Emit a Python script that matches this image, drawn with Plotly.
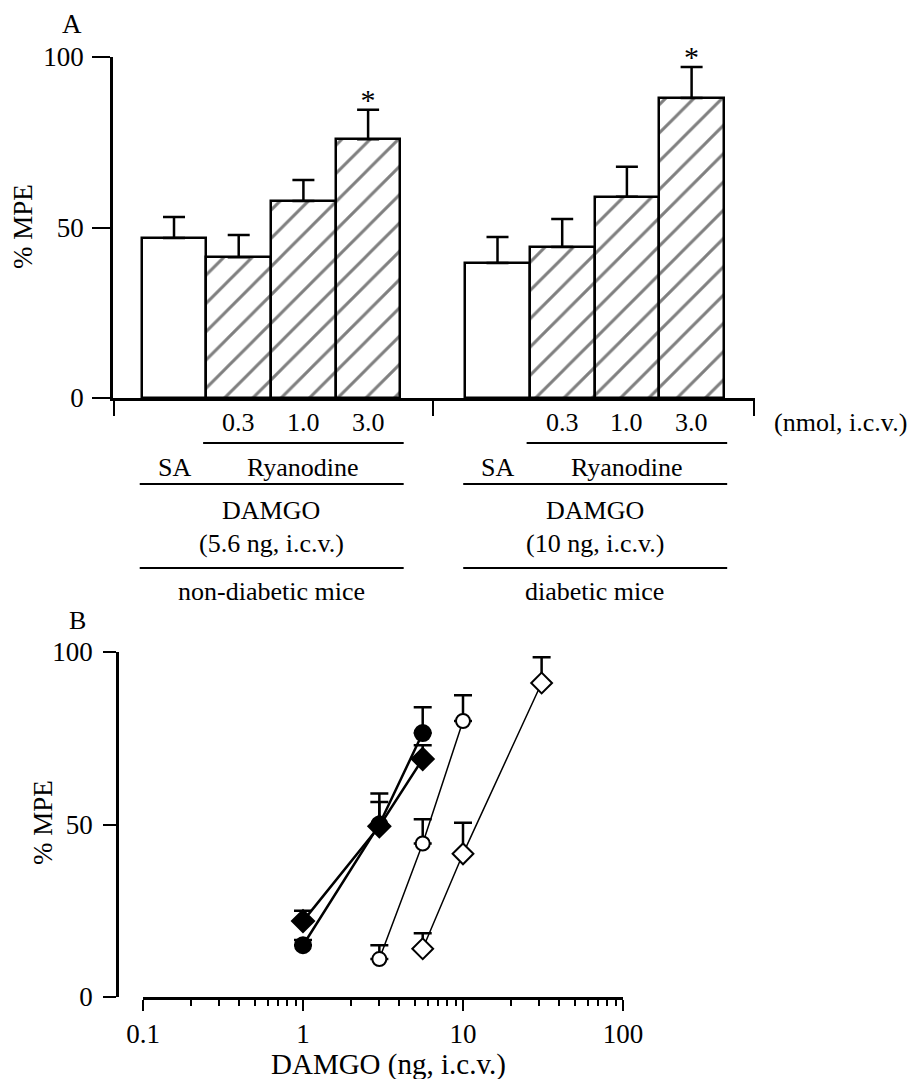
import plotly.graph_objects as go

# ---------------- data: panel A ----------------
categories = ["SA", "0.3", "1.0", "3.0"]
nondiabetic_mean = [46.9, 41.3, 57.8, 75.9]
nondiabetic_sem = [6.2, 6.5, 6.1, 8.6]
nondiabetic_sig = ["", "", "", "*"]
diabetic_mean = [39.6, 44.3, 59.0, 88.0]
diabetic_sem = [7.6, 8.2, 8.8, 9.1]
diabetic_sig = ["", "", "", "*"]
group_labels = ["(5.6 ng, i.c.v.)", "(10 ng, i.c.v.)"]
mice_labels = ["non-diabetic mice", "diabetic mice"]

# ---------------- data: panel B ----------------
filled_circle_x = [1, 3, 5.6]
filled_circle_y = [15.0, 50.0, 76.5]
filled_circle_err = [1.5, 9.0, 7.5]
filled_diamond_x = [1, 3, 5.6]
filled_diamond_y = [22.0, 49.5, 69.0]
filled_diamond_err = [3.0, 7.0, 4.0]
open_circle_x = [3, 5.6, 10]
open_circle_y = [11.0, 44.5, 80.0]
open_circle_err = [4.0, 7.0, 7.5]
open_diamond_x = [5.6, 10, 31]
open_diamond_y = [14.0, 41.5, 91.0]
open_diamond_err = [4.5, 9.0, 7.5]
b_ticks = [0.1, 1, 10, 100]
b_ticktext = ["0.1", "1", "10", "100"]

FONT = "Liberation Serif"
FS = 26      # label rows
TFS = 27     # tick labels
W, H = 923, 1079


def py(px):
    return 1 - px / H


fig = go.Figure()

pos1 = [1, 2, 3, 4]
pos2 = [6, 7, 8, 9]
shapes_pat = ["" if c == "SA" else "/" for c in categories]

for pos, mean, sem, sig in [(pos1, nondiabetic_mean, nondiabetic_sem, nondiabetic_sig),
                            (pos2, diabetic_mean, diabetic_sem, diabetic_sig)]:
    fig.add_trace(go.Bar(
        x=pos, y=mean, width=1.0,
        marker=dict(color="white",
                    line=dict(color="black", width=2.5),
                    pattern=dict(shape=shapes_pat, size=20, solidity=0.15,
                                 fgcolor="black", bgcolor="white", fillmode="overlay")),
        error_y=dict(type="data", symmetric=False, array=sem, arrayminus=[0] * len(sem),
                     color="black", thickness=2.5, width=11),
        xaxis="x", yaxis="y", showlegend=False))
    fig.add_trace(go.Scatter(
        x=pos, y=[m + s - 2.3 for m, s in zip(mean, sem)], text=sig,
        mode="text", textposition="top center", cliponaxis=False,
        textfont=dict(family=FONT, size=30, color="black"),
        xaxis="x", yaxis="y", showlegend=False))

# ---------------- panel B traces ----------------
series = [
    (filled_circle_x, filled_circle_y, filled_circle_err, "circle", "black", 16, 2.5),
    (filled_diamond_x, filled_diamond_y, filled_diamond_err, "diamond", "black", 17, 2.5),
    (open_circle_x, open_circle_y, open_circle_err, "circle", "white", 14, 1.5),
    (open_diamond_x, open_diamond_y, open_diamond_err, "diamond", "white", 16, 1.5),
]
for xs, ys, es, sym, fill, size, lw in series:
    fig.add_trace(go.Scatter(
        x=xs, y=ys, mode="lines+markers",
        line=dict(color="black", width=lw),
        marker=dict(symbol=sym, color=fill, size=size, line=dict(color="black", width=2)),
        error_y=dict(type="data", symmetric=False, array=es, arrayminus=[0] * len(es),
                     color="black", thickness=2.5, width=9),
        xaxis="x2", yaxis="y2", showlegend=False, cliponaxis=False))

axis_font = dict(family=FONT, size=TFS, color="black")

fig.update_layout(
    template="none",
    width=W, height=H, autosize=False,
    margin=dict(l=0, r=0, t=0, b=0, pad=0),
    paper_bgcolor="white", plot_bgcolor="white",
    showlegend=False,
    font=dict(family=FONT, size=FS, color="black"),
    bargap=0,
    xaxis=dict(domain=[113 / W, 755 / W], range=[0.057, 9.98], automargin=False,
               tickvals=[0.07, 5, 9.97], ticktext=["", "", ""],
               ticks="outside", ticklen=15, tickwidth=2, tickcolor="black",
               showline=True, linecolor="black", linewidth=2.5,
               showgrid=False, zeroline=False, anchor="y", fixedrange=True),
    yaxis=dict(domain=[py(398), py(57)], range=[0, 100], automargin=False,
               tickvals=[0, 50, 100], ticks="outside", ticklen=18, tickwidth=2,
               tickcolor="black", showline=True, linecolor="black", linewidth=2.5,
               showgrid=False, zeroline=False, anchor="x", tickfont=axis_font,
               ticklabelstandoff=3),
    xaxis2=dict(type="log", domain=[143 / W, 623 / W], range=[-1, 2], automargin=False,
                tickvals=b_ticks, ticktext=b_ticktext,
                ticks="outside", ticklen=11, tickwidth=2, tickcolor="black",
                minor=dict(ticks="outside", ticklen=6, tickwidth=2, tickcolor="black",
                           tickvals=[m * d for d in (0.1, 1, 10) for m in range(2, 10)]),
                showline=True, linecolor="black", linewidth=2.5,
                showgrid=False, zeroline=False, anchor="y2", tickfont=axis_font),
    yaxis2=dict(domain=[py(997), py(652)], range=[0, 100], automargin=False,
                tickvals=[0, 50, 100], ticks="outside", ticklen=13, tickwidth=2,
                tickcolor="black", showline=True, linecolor="black", linewidth=2.5,
                showgrid=False, zeroline=False, anchor="free", position=117 / W,
                tickfont=axis_font, ticklabelstandoff=5),
)

ann = []
shp = []


def text(x, y, s, xref="paper", xanchor="center", size=FS, angle=0):
    ann.append(dict(x=x, y=py(y), xref=xref, yref="paper", text=s, showarrow=False,
                    xanchor=xanchor, yanchor="middle", textangle=angle,
                    font=dict(family=FONT, size=size, color="black")))


def hline(x0, x1, y):
    shp.append(dict(type="line", xref="x", yref="paper", x0=x0, x1=x1,
                    y0=py(y), y1=py(y), line=dict(color="black", width=2)))


text(72 / W, 24, "A", size=27)
text(23 / W, 227, "% MPE", angle=-90, size=27)
for pos, lab_g, lab_m in [(pos1, group_labels[0], mice_labels[0]), (pos2, group_labels[1], mice_labels[1])]:
    for p, c in zip(pos[1:], categories[1:]):
        text(p, 423, c, xref="x")
    hline(pos[1] - 0.55, pos[-1] + 0.55, 443)
    text(pos[0], 467, categories[0], xref="x")
    text((pos[1] + pos[-1]) / 2, 467, "Ryanodine", xref="x")
    hline(pos[0] - 0.53, pos[-1] + 0.55, 484)
    text((pos[0] + pos[-1]) / 2, 510, "DAMGO", xref="x")
    text((pos[0] + pos[-1]) / 2, 543, lab_g, xref="x")
    hline(pos[0] - 0.53, pos[-1] + 0.55, 568)
    text((pos[0] + pos[-1]) / 2, 591, lab_m, xref="x")
text(772 / W, 423, "(nmol, i.c.v.)", xanchor="left")

text(77 / W, 620, "B", size=26)
text(43 / W, 823, "% MPE", angle=-90, size=27)
text(388 / W, 1064, "DAMGO (ng, i.c.v.)", size=29)

fig.update_layout(annotations=ann, shapes=shp)
fig.write_html("out.html", config={"displayModeBar": False},
               post_script="document.body.style.margin='0px';")
